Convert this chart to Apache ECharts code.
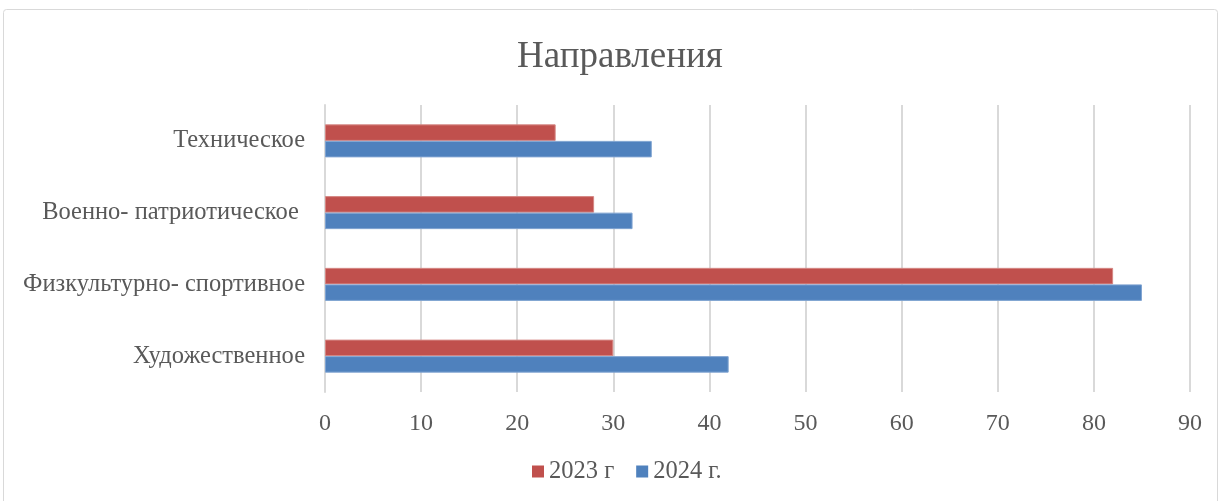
<!DOCTYPE html>
<html>
<head>
<meta charset="utf-8">
<title>Направления</title>
<script src="https://cdn.jsdelivr.net/npm/echarts@6/dist/echarts.min.js"></script>
<style>
  html, body { margin: 0; padding: 0; background: #fff; }
  #chart { width: 1221px; height: 501px; }
</style>
</head>
<body>
<div id="chart"></div>
<script>
// данные
var categories = ['Художественное', 'Физкультурно- спортивное', 'Военно- патриотическое ', 'Техническое'];
var values2023 = [30, 82, 28, 24];
var values2024 = [42, 85, 32, 34];
var xTicks = { min: 0, max: 90, interval: 10 };

var chart = echarts.init(document.getElementById('chart'));
var font = 'Liberation Serif, Times New Roman, serif';

var option = {
    backgroundColor: '#fff',
    animation: false,
    title: {
        text: 'Направления',
        left: 512,
        top: 34,
        textStyle: { fontFamily: font, fontSize: 37, fontWeight: 'normal', color: '#595959' }
    },
    graphic: [{
        type: 'rect',
        shape: { x: 3.5, y: 9.5, width: 1214, height: 500, r: 3 },
        style: { fill: 'none', stroke: '#d9d9d9', lineWidth: 1 },
        silent: true
    }],
    legend: {
        data: ['2023 г', '2024 г.'],
        bottom: 12,
        left: 527,
        itemWidth: 12,
        itemHeight: 12,
        itemGap: 22,
        icon: 'rect',
        itemStyle: { borderWidth: 0 },
        textStyle: { fontFamily: font, fontSize: 24.5, color: '#595959' }
    },
    grid: { left: 325, right: 31, top: 105, bottom: 109, containLabel: false },
    xAxis: {
        type: 'value',
        min: xTicks.min,
        max: xTicks.max,
        interval: xTicks.interval,
        axisLine: { show: false },
        axisTick: { show: false },
        splitLine: { show: true, lineStyle: { color: '#d9d9d9', width: 2 } },
        axisLabel: { fontFamily: font, fontSize: 24, color: '#595959', margin: 20 }
    },
    yAxis: {
        type: 'category',
        data: categories,
        axisLine: { show: true, lineStyle: { color: '#d9d9d9', width: 2 } },
        axisTick: { show: false },
        axisLabel: { fontFamily: font, fontSize: 24.5, color: '#595959', margin: 20 }
    },
    series: [
        {
            name: '2023 г',
            type: 'bar',
            data: values2023,
            barGap: '0%',
            barCategoryGap: '54%',
            itemStyle: { color: '#C0504D', borderColor: '#d58784', borderWidth: 1 }
        },
        {
            name: '2024 г.',
            type: 'bar',
            data: values2024,
            barGap: '0%',
            barCategoryGap: '54%',
            itemStyle: { color: '#4F81BD', borderColor: '#7fa3d1', borderWidth: 1 }
        }
    ]
};
chart.setOption(option);
</script>
</body>
</html>
